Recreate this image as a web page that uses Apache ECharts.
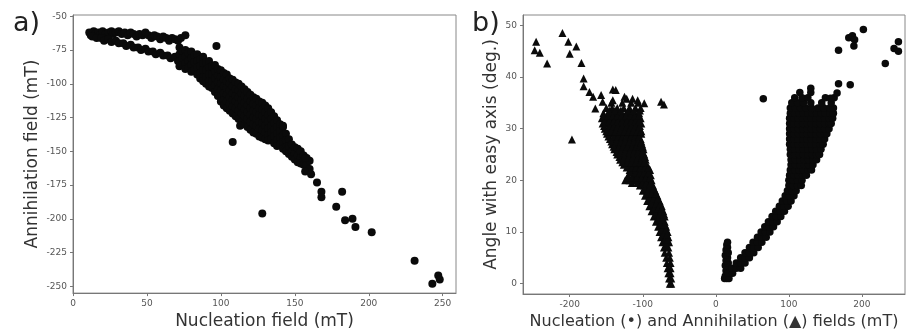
<!DOCTYPE html>
<html><head><meta charset="utf-8">
<script src="https://cdn.jsdelivr.net/npm/echarts@6/dist/echarts.min.js"></script>
<style>html,body{margin:0;padding:0;background:#fff}#c{width:912px;height:335px}</style>
</head><body><div id="c"></div>
<script>
// ---------- Panel a) : nucleation field (x) vs annihilation field (y), mT ----------
const xTicksA = [0, 50, 100, 150, 200, 250];
const yTicksA = [-250, -225, -200, -175, -150, -125, -100, -75, -50];
const upperBranchA = [[11,-62],[12,-64],[14,-61],[15,-63],[17,-62],[18,-64],[20,-61],[22,-63],[24,-62],[26,-61],[27,-63],[29,-62],[31,-61],[33,-63],[35,-62],[37,-64],[39,-62],[41,-63],[43,-65],[45,-63],[47,-64],[49,-62],[51,-64],[53,-66],[55,-64],[57,-65],[59,-67],[61,-65],[63,-66],[65,-68],[67,-66],[69,-67],[71,-68],[73,-66]];
const lowerBranchA = [[13,-65],[16,-66],[19,-66],[21,-68],[24,-67],[26,-69],[29,-68],[31,-70],[34,-70],[36,-72],[39,-71],[41,-73],[44,-73],[46,-75],[49,-74],[51,-76],[54,-76],[56,-78],[59,-77],[61,-79],[64,-79],[66,-81],[69,-80],[71,-83]];
// columns: [nucleation, annihilation values...]
const mainBandA = [
 [72,-73,-78,-83,-87],[74,-76,-81,-86],[76,-75,-80,-85,-89],[78,-77,-83,-88],[80,-76,-81,-86,-91],
 [82,-79,-84,-90],[84,-78,-83,-88,-93],[86,-82,-87,-92,-96],[88,-80,-85,-90,-95,-98],[90,-84,-90,-95,-100],
 [92,-83,-88,-93,-98,-102],[94,-87,-93,-98,-103],[96,-86,-91,-96,-101,-106],[98,-89,-94,-99,-104,-109],
 [100,-90,-95,-100,-105,-109,-113],[102,-92,-97,-102,-107,-112,-116],[104,-93,-98,-103,-108,-113,-118],
 [106,-96,-100,-105,-110,-115,-120],[108,-97,-102,-107,-112,-117,-122],[110,-99,-104,-109,-113,-118,-124],
 [112,-100,-105,-110,-115,-120,-126],[114,-102,-107,-112,-117,-122,-128],[116,-104,-109,-114,-119,-124,-130],
 [118,-106,-111,-116,-121,-126,-132],[120,-108,-113,-118,-123,-128,-134],[122,-110,-115,-120,-125,-130,-136],
 [124,-111,-116,-121,-126,-131,-137],[126,-113,-118,-123,-128,-133,-139],[128,-114,-119,-124,-129,-134,-140],
 [130,-116,-121,-126,-131,-136,-141],[132,-118,-123,-128,-133,-138,-142],[134,-121,-126,-131,-136,-141],
 [136,-124,-129,-134,-139,-144],[138,-127,-132,-137,-142,-146],[140,-130,-135,-140,-145],[142,-132,-138,-143,-148],
 [144,-137,-142,-147,-150],[146,-141,-146,-152],[148,-145,-150,-154],[150,-147,-152,-156],[152,-148,-153,-158],
 [154,-150,-155,-159],[156,-153,-157,-160],[158,-155,-160],[160,-157,-163]
];
const outliersA = [[76,-64],[97,-72],[108,-143],[113,-131],[142,-131],[128,-196],[157,-155],[157,-165],[161,-167],[165,-173],[168,-180],[168,-184],[178,-191],[182,-180],[184,-201],[189,-200],[191,-206],[202,-210],[231,-231],[243,-248],[247,-242],[248,-245]];

// ---------- Panel b) : field (x, mT) vs angle with easy axis (y, deg.) ----------
const xTicksB = [-200, -100, 0, 100, 200];
const yTicksB = [0, 10, 20, 30, 40, 50];
// rows: [angle, annihilation field values...]
const annihilationRows = [
 [0,-63,-61],[1,-64,-61],[2,-65,-62],[3,-66,-62],[4,-67,-62],[5,-68,-63],[6,-70,-64],[7,-71,-65],
 [8,-73,-67,-64],[9,-75,-69,-65],[10,-77,-71,-66],[11,-79,-73,-68],[12,-82,-76,-70],[13,-85,-79,-73,-70],
 [14,-88,-82,-76,-72],[15,-91,-85,-79,-74],[16,-94,-88,-82,-77],[17,-97,-91,-85,-80],[18,-100,-94,-88,-83],
 [19,-104,-98,-92,-86],[20,-124,-118,-111,-105,-99,-93,-88],[21,-120,-113,-107,-101,-95,-89],
 [22,-118,-112,-106,-100,-94,-90],[23,-126,-119,-113,-107,-101,-95],[24,-131,-124,-118,-112,-106,-100,-96],
 [25,-135,-128,-122,-116,-110,-104,-98],[26,-139,-133,-127,-121,-115,-109,-103,-99],
 [27,-142,-136,-130,-124,-118,-112,-106,-101],[28,-145,-139,-133,-127,-121,-115,-109,-103],
 [29,-149,-143,-137,-131,-125,-119,-113,-107,-102],[30,-152,-146,-140,-134,-128,-122,-116,-110,-104],
 [31,-155,-149,-143,-137,-131,-125,-119,-113,-107,-102],[32,-156,-150,-144,-138,-132,-126,-120,-114,-108,-103],
 [33,-154,-147,-141,-135,-129,-123,-117,-111,-105],[34,-150,-142,-135,-126,-118,-110,-103],[35,-143,-128,-116,-106]
];
const annihilationHalfRows = [
 [7.5,-68],[8.5,-70,-66],[9.5,-72,-67],[10.5,-74,-68],[11.5,-76,-70],[12.5,-79,-73],[13.5,-82,-76,-71],
 [14.5,-85,-79,-74],[15.5,-88,-82,-76],[16.5,-91,-85,-79],[17.5,-94,-88,-82],[18.5,-97,-91,-85],
 [19.5,-115,-108,-101,-95,-89],[20.5,-121,-115,-108,-102,-96,-90],[21.5,-117,-110,-104,-98,-92],
 [22.5,-122,-115,-109,-103,-97,-92],[23.5,-128,-121,-115,-109,-103,-98],[24.5,-132,-125,-119,-113,-107,-101,-97],
 [25.5,-136,-130,-124,-118,-112,-106,-100],[26.5,-140,-133,-127,-121,-115,-109,-104,-100],
 [27.5,-143,-136,-130,-124,-118,-112,-106,-102],[28.5,-147,-140,-134,-128,-122,-116,-110,-105],
 [29.5,-150,-143,-137,-131,-125,-119,-113,-107,-102],[30.5,-153,-146,-140,-134,-128,-122,-116,-110,-104],
 [31.5,-152,-146,-140,-134,-128,-122,-116,-110,-105],[32.5,-153,-147,-141,-135,-129,-123,-117,-111,-105],
 [33.5,-146,-138,-130,-120,-112,-104]
];
const annihilationScatter = [[-246,46.8],[-248,45.2],[-241,44.7],[-231,42.6],[-210,48.5],[-202,46.8],[-200,44.5],[-191,45.9],[-197,27.9],[-184,42.7],[-181,39.7],[-181,38.2],[-173,37.1],[-168,36.2],[-165,33.9],[-157,36.5],[-155,35.2],[-141,37.6],[-137,37.5],[-141,35.5],[-125,36.2],[-122,35.8],[-114,35.8],[-107,35.5],[-98,34.9],[-75,35.2],[-71,34.7]];
const nucleationStub = [[15,1],[13,1.5],[17,2],[14,2.5],[16,3],[13,3.5],[17,4],[14,4.5],[16,5],[13,5.5],[17,6],[14,6.5],[16,7],[15,7.5],[16,8]];
// rows: [angle, nucleation field values...]
const nucleationRows = [
 [1,12,18],[2,17,23],[3,22,28,34],[4,28,34,40],[5,34,40,46],[6,40,46,52],[7,46,52,58],[8,51,57,63],
 [9,57,63,69],[10,62,68,74],[11,67,73,79],[12,72,78,84],[13,77,83,89],[14,82,88,94],[15,87,93,99],
 [16,91,97,103],[17,95,101,107],[18,98,104,110],[19,100,106,112,117],[20,100,106,112,118],
 [21,101,107,113,119,124],[22,102,108,114,120,126,131],[23,103,109,115,121,127,133],
 [24,103,109,115,121,127,133,138],[25,102,108,114,120,126,132,138,142],[26,102,108,114,120,126,132,138,144],
 [27,101,107,113,119,125,131,137,143,147],[28,101,107,113,119,125,131,137,143,149],
 [29,101,107,113,119,125,131,137,143,149,152],[30,101,107,113,119,125,131,137,143,149,155],
 [31,101,107,113,119,125,131,137,143,149,155,158],[32,101,107,113,119,125,131,137,143,149,155,160],
 [33,102,108,114,120,126,132,138,144,150,156,161],[34,102,109,116,123,131,140,148,156,161],
 [35,104,112,120,130,145,158],[36,108,118,126,150,162],[37,115,130]
];
const nucleationScatter = [[65,35.8],[130,37.8],[157,35.9],[166,36.9],[168,38.7],[184,38.5],[168,45.2],[182,47.6],[187,48],[190,47.2],[189,46],[202,49.2],[232,42.6],[250,46.8],[244,45.5],[250,45]];

// ---------- build series data ----------
const colsToPoints = cols => cols.flatMap(c => c.slice(1).map(v => [c[0], v]));
const rowsToPoints = rows => rows.flatMap(r => r.slice(1).map(x => [x, r[0]]));

const panelA = upperBranchA.concat(lowerBranchA, colsToPoints(mainBandA), outliersA);
const triangles = rowsToPoints(annihilationRows).concat(rowsToPoints(annihilationHalfRows), annihilationScatter);
const circles = nucleationStub.concat(rowsToPoints(nucleationRows), nucleationScatter);

const FONT = 'DejaVu Sans';
const tickLabel = {fontSize: 9, color: '#555', fontFamily: FONT};
function axis(opts) {
  return Object.assign({
    type: 'value',
    axisLine: {show: true, onZero: false, lineStyle: {color: '#777', width: 1}},
    axisTick: {show: true, length: 3, lineStyle: {color: '#777'}},
    splitLine: {show: false},
    nameLocation: 'middle',
    nameTextStyle: {fontSize: 17, color: '#333', fontFamily: FONT}
  }, opts);
}
const markStyle = {color: '#0a0a0a', opacity: 1, borderWidth: 0};

const chart = echarts.init(document.getElementById('c'), null, {renderer: 'canvas'});
chart.setOption({
  animation: false,
  backgroundColor: '#fff',
  title: [
    {text: 'a)', left: 8, top: 5, textStyle: {fontSize: 27, fontWeight: 'normal', color: '#222', fontFamily: FONT}},
    {text: 'b)', left: 467, top: 5, textStyle: {fontSize: 27, fontWeight: 'normal', color: '#222', fontFamily: FONT}}
  ],
  grid: [
    {left: 73, top: 15, width: 383, height: 279, show: true, borderColor: '#888', borderWidth: 1},
    {left: 523, top: 15, width: 382, height: 279, show: true, borderColor: '#888', borderWidth: 1}
  ],
  xAxis: [
    axis({gridIndex: 0, min: 0, max: 259, name: 'Nucleation field (mT)', nameGap: 19,
      axisTick: {show: true, length: 3, lineStyle: {color: '#777'}, customValues: xTicksA},
      axisLabel: Object.assign({customValues: xTicksA, margin: 6}, tickLabel)}),
    axis({gridIndex: 1, min: -264, max: 259, name: 'Nucleation (•) and Annihilation (▲) fields (mT)', nameGap: 19,
      nameTextStyle: {fontSize: 16, color: '#333', fontFamily: FONT},
      axisTick: {show: true, length: 3, lineStyle: {color: '#777'}, customValues: xTicksB},
      axisLabel: Object.assign({customValues: xTicksB, margin: 6}, tickLabel)})
  ],
  yAxis: [
    axis({gridIndex: 0, min: -255, max: -49, name: 'Annihilation field (mT)', nameGap: 32, nameRotate: 90,
      axisTick: {show: true, length: 3, lineStyle: {color: '#777'}, customValues: yTicksA},
      axisLabel: Object.assign({customValues: yTicksA, margin: 6}, tickLabel)}),
    axis({gridIndex: 1, min: -2, max: 52, name: 'Angle with easy axis (deg.)', nameGap: 23, nameRotate: 90,
      axisTick: {show: true, length: 3, lineStyle: {color: '#777'}, customValues: yTicksB},
      axisLabel: Object.assign({customValues: yTicksB, margin: 6}, tickLabel)})
  ],
  series: [
    {type: 'scatter', xAxisIndex: 0, yAxisIndex: 0, data: panelA, symbol: 'circle', symbolSize: 8,
      itemStyle: markStyle, silent: true},
    {type: 'scatter', xAxisIndex: 1, yAxisIndex: 1, data: triangles, symbol: 'triangle', symbolSize: 8,
      itemStyle: markStyle, silent: true},
    {type: 'scatter', xAxisIndex: 1, yAxisIndex: 1, data: circles, symbol: 'circle', symbolSize: 7.5,
      itemStyle: markStyle, silent: true}
  ]
});
</script></body></html>
